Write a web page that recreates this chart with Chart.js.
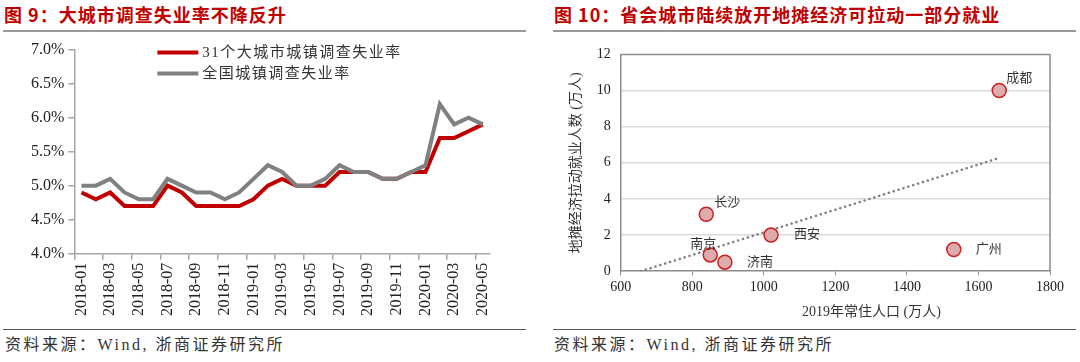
<!DOCTYPE html>
<html>
<head>
<meta charset="utf-8">
<script src="https://cdn.jsdelivr.net/npm/chart.js@4.4.0/dist/chart.umd.min.js"></script>
<style>
  body { margin: 0; width: 1080px; height: 362px; background: #fff; position: relative; overflow: hidden;
         font-family: "Liberation Serif", "Noto Sans CJK SC", serif; }
  .title { position: absolute; top: 2px; font-family: "Noto Sans CJK SC", sans-serif; font-weight: 700;
           font-size: 18px; line-height: 24px; color: #c00000; letter-spacing: 1px; white-space: nowrap; }
  .rule { position: absolute; top: 30px; height: 2px; background: #9a9a9a; }
  .rule2 { position: absolute; top: 329px; height: 1px; background: #555; }
  .src { position: absolute; top: 334px; font-size: 16px; line-height: 22px; color: #333; letter-spacing: 2.5px; white-space: nowrap; }
  canvas { position: absolute; top: 36px; }
</style>
</head>
<body>
<div class="title" style="left:4px">图 9：大城市调查失业率不降反升</div>
<div class="rule" style="left:3px;width:523px"></div>
<div class="title" style="left:554px">图 10：省会城市陆续放开地摊经济可拉动一部分就业</div>
<div class="rule" style="left:553px;width:523px"></div>

<canvas id="c1" width="520" height="292" style="left:0"></canvas>
<canvas id="c2" width="540" height="292" style="left:540px"></canvas>

<div class="rule2" style="left:3px;width:523px"></div>
<div class="src" style="left:5px">资料来源：Wind, 浙商证券研究所</div>
<div class="rule2" style="left:553px;width:523px"></div>
<div class="src" style="left:554px">资料来源：Wind, 浙商证券研究所</div>

<script>
// 図9 データ
const months = [
  "2018-01","2018-02","2018-03","2018-04","2018-05","2018-06","2018-07","2018-08","2018-09","2018-10","2018-11","2018-12",
  "2019-01","2019-02","2019-03","2019-04","2019-05","2019-06","2019-07","2019-08","2019-09","2019-10","2019-11","2019-12",
  "2020-01","2020-02","2020-03","2020-04","2020-05"
];
const city31 = [4.9,4.8,4.9,4.7,4.7,4.7,5.0,4.9,4.7,4.7,4.7,4.7,
                4.8,5.0,5.1,5.0,5.0,5.0,5.2,5.2,5.2,5.1,5.1,5.2,
                5.2,5.7,5.7,5.8,5.9];
const national = [5.0,5.0,5.1,4.9,4.8,4.8,5.1,5.0,4.9,4.9,4.8,4.9,
                  5.1,5.3,5.2,5.0,5.0,5.1,5.3,5.2,5.2,5.1,5.1,5.2,
                  5.3,6.2,5.9,6.0,5.9];

// 図10 データ
const cities = ["成都","广州","西安","济南","南京","长沙"];
const population = [1658, 1531, 1020, 891, 850, 839];
const jobs = [10.0, 1.2, 2.0, 0.5, 0.9, 3.15];
const trendX = [656, 1658];
const trendY = [0, 6.27];

const serif = '"Liberation Serif", "Noto Sans CJK SC", serif';
const axisGray = "#a6a6a6";

// 凡例（プロット内に左揃えで2行）
const lineLegend = {
  id: "lineLegend",
  afterDraw(chart) {
    const { ctx, chartArea: a } = chart;
    ctx.save();
    ctx.font = "15px " + serif;
    ctx.textBaseline = "middle";
    ctx.letterSpacing = "1.5px";
    chart.data.datasets.forEach((ds, i) => {
      const y = a.top + 3 + i * 21;
      ctx.strokeStyle = ds.borderColor;
      ctx.lineWidth = 4;
      ctx.beginPath();
      ctx.moveTo(a.left + 83, y);
      ctx.lineTo(a.left + 124, y);
      ctx.stroke();
      ctx.fillStyle = "#333";
      ctx.fillText(ds.label, a.left + 128, y);
    });
    ctx.restore();
  }
};

new Chart(document.getElementById("c1"), {
  type: "line",
  data: {
    labels: months,
    datasets: [
      { label: "31个大城市城镇调查失业率", data: city31, borderColor: "#c00000", borderWidth: 4,
        pointRadius: 0, tension: 0, order: 1 },
      { label: "全国城镇调查失业率", data: national, borderColor: "#808080", borderWidth: 4,
        pointRadius: 0, tension: 0, order: 0 }
    ]
  },
  options: {
    responsive: false,
    animation: false,
    layout: { padding: { left: 27, top: 13, right: 30, bottom: 9 } },
    plugins: { legend: { display: false }, tooltip: { enabled: false } },
    scales: {
      x: {
        offset: true,
        grid: { offset: true, drawOnChartArea: false, tickLength: 6, lineWidth: 1.5,
                color: (c) => (c.index % 2 === 0 ? axisGray : "rgba(0,0,0,0)") },
        border: { color: axisGray, width: 1.5 },
        ticks: { autoSkip: false, minRotation: 90, maxRotation: 90, padding: 3, color: "#222",
                 font: { family: serif, size: 16 },
                 callback: (v, i) => (i % 2 === 0 ? months[i] : "") }
      },
      y: {
        min: 4, max: 7,
        grid: { drawOnChartArea: false, tickLength: 6, lineWidth: 1.5, color: axisGray },
        border: { color: axisGray, width: 1.5 },
        ticks: { stepSize: 0.5, padding: 4, color: "#222", font: { family: serif, size: 16 },
                 callback: (v) => v.toFixed(1) + "%" }
      }
    }
  },
  plugins: [lineLegend]
});

// 枠線・都市名・x軸タイトル
const scatterExtras = {
  id: "scatterExtras",
  beforeDatasetsDraw(chart) {
    const { ctx, chartArea: a } = chart;
    ctx.save();
    ctx.strokeStyle = "#8c8c8c";
    ctx.lineWidth = 1.5;
    ctx.beginPath();
    ctx.moveTo(a.left, a.top);
    ctx.lineTo(a.right, a.top);
    ctx.lineTo(a.right, a.bottom);
    ctx.stroke();
    ctx.restore();
  },
  afterDatasetsDraw(chart) {
    const { ctx, chartArea: a } = chart;
    const offsets = [[20, -12], [35, 0], [36, 0], [35, 0], [-7, -10], [21, -12]];
    const meta = chart.getDatasetMeta(0);
    ctx.save();
    ctx.font = "13px " + serif;
    ctx.fillStyle = "#333";
    ctx.textAlign = "center";
    ctx.textBaseline = "middle";
    meta.data.forEach((pt, i) => {
      ctx.fillText(cities[i], pt.x + offsets[i][0], pt.y + offsets[i][1]);
    });
    ctx.font = "14px " + serif;
    ctx.fillText("2019年常住人口 (万人)", (a.left + a.right) / 2 + 36, a.bottom + 41);
    ctx.restore();
  }
};

new Chart(document.getElementById("c2"), {
  type: "scatter",
  data: {
    datasets: [
      { label: "就业", data: population.map((x, i) => ({ x: x, y: jobs[i] })),
        pointRadius: 7, pointBackgroundColor: "#ddabab", pointBorderColor: "#cc1f1f",
        pointBorderWidth: 1.5, order: 0 },
      { label: "趋势", type: "line", data: trendX.map((x, i) => ({ x: x, y: trendY[i] })),
        borderColor: "#7f7f7f", borderWidth: 2.5, borderDash: [0.1, 5], borderCapStyle: "round",
        pointRadius: 0, tension: 0, order: 1 }
    ]
  },
  options: {
    responsive: false,
    animation: false,
    layout: { padding: { left: 28, top: 4, right: 30, bottom: 28 } },
    plugins: { legend: { display: false }, tooltip: { enabled: false } },
    scales: {
      x: {
        type: "linear", min: 600, max: 1800,
        grid: { drawOnChartArea: false, tickLength: 4, color: "#8c8c8c" },
        border: { color: "#8c8c8c", width: 1.5 },
        ticks: { stepSize: 200, padding: 4, color: "#222", font: { family: serif, size: 14 },
                 callback: (v) => String(v) }
      },
      y: {
        min: 0, max: 12,
        grid: { drawTicks: false, lineWidth: 1.5,
                color: (c) => (c.tick && (c.tick.value === 0 || c.tick.value === 12) ? "rgba(0,0,0,0)" : "#dadada") },
        border: { color: "#8c8c8c", width: 1.5 },
        ticks: { stepSize: 2, padding: 10, color: "#222", font: { family: serif, size: 14 } },
        title: { display: true, text: "地摊经济拉动就业人数 (万人)", color: "#333",
                 font: { family: serif, size: 14 }, padding: { top: 0, bottom: 2 } }
      }
    }
  },
  plugins: [scatterExtras]
});
</script>
</body>
</html>
